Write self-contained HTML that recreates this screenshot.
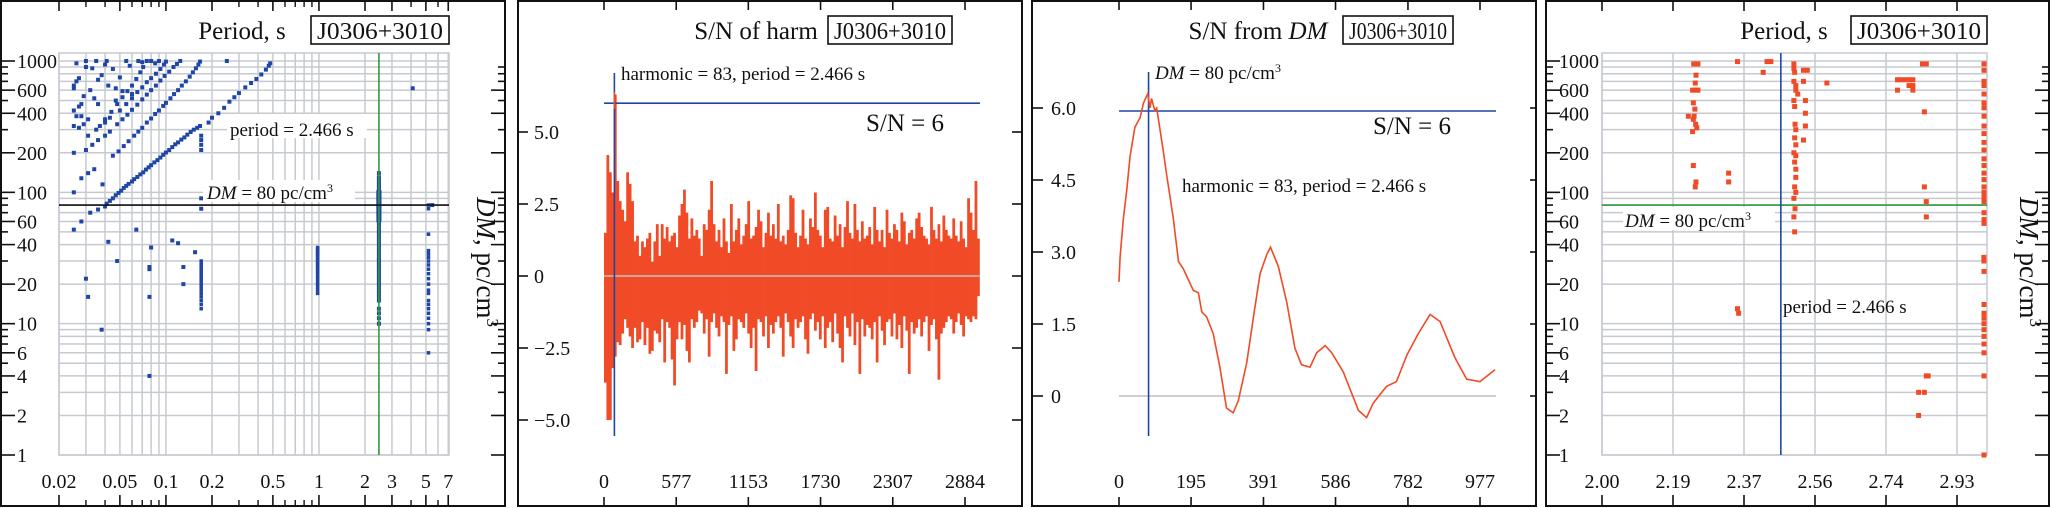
<!DOCTYPE html>
<html><head><meta charset="utf-8"><style>
html,body{margin:0;padding:0;background:#fff}
svg{display:block;font-family:"Liberation Serif",serif}
</style></head><body>
<svg id="fig" width="2051" height="508" viewBox="0 0 2051 508" xmlns="http://www.w3.org/2000/svg"></svg>
<script>
// ---------- DATA ----------
const p1XTicks = [0.02,0.05,0.1,0.2,0.5,1,2,3,5,7];
const p1XTickLabels = ["0.02","0.05","0.1","0.2","0.5","1","2","3","5","7"];
const logYTicks = [1,2,4,6,10,20,40,60,100,200,400,600,1000];
const logYTickLabels = ["1","2","4","6","10","20","40","60","100","200","400","600","1000"];
const p1MarkPeriod = 2.466;
const p1MarkDM = 80;
const p1StreakA = [[0.025,52],[0.028,60],[0.032,70],[0.036,74],[0.040,78],[0.041,82],[0.043,86],[0.045,90],[0.047,95],[0.049,99],[0.051,103],[0.053,108],[0.055,112],[0.057,116],[0.06,121],[0.062,126],[0.065,131],[0.068,137],[0.071,142],[0.074,149],[0.077,155],[0.08,161],[0.084,169],[0.088,176],[0.092,184],[0.096,193],[0.1,201],[0.105,210],[0.11,221],[0.115,232],[0.12,240],[0.126,252],[0.132,262],[0.138,275],[0.145,288],[0.152,300],[0.16,310],[0.167,320],[0.19,340],[0.2,370],[0.22,400],[0.24,440],[0.26,490],[0.28,530],[0.3,570],[0.33,630],[0.36,680],[0.39,730],[0.42,790],[0.45,860],[0.47,920],[0.48,960]];
const p1StreakB = [[0.028,128],[0.031,140],[0.034,150],[0.0385,115],[0.045,190],[0.049,205],[0.053,225],[0.057,245],[0.062,270],[0.066,290],[0.07,310],[0.075,340],[0.08,365],[0.085,395],[0.09,420],[0.096,455],[0.1,480],[0.107,520],[0.113,560],[0.12,600],[0.127,650],[0.135,700],[0.143,760],[0.15,820],[0.157,880],[0.163,940],[0.167,990],[0.25,1000]];
const p1StreakC = [[0.03,210],[0.033,230],[0.036,250],[0.04,270],[0.043,290],[0.048,330],[0.052,360],[0.056,390],[0.06,425],[0.065,465],[0.07,510],[0.075,555],[0.08,600],[0.086,650],[0.092,710],[0.098,770],[0.105,830],[0.112,900],[0.118,950],[0.124,1000]];
const p1StreakD = [[0.031,270],[0.035,300],[0.04,340],[0.043,370],[0.05,420],[0.055,470],[0.06,520],[0.065,580],[0.07,630],[0.075,690],[0.08,740],[0.086,800],[0.092,870],[0.097,940],[0.1,990]];
const p1StreakE = [[0.037,320],[0.04,360],[0.044,410],[0.048,470],[0.052,530],[0.056,590],[0.06,650],[0.064,730],[0.068,820],[0.071,900]];
const p1ScatterTop = [[0.025,620],[0.026,700],[0.025,650],[0.027,450],[0.025,420],[0.026,380],[0.025,320],[0.027,310],[0.025,200],[0.025,100],[0.028,470],[0.03,900],[0.032,600],[0.034,520],[0.036,470],[0.038,780],[0.041,1000],[0.045,870],[0.047,620],[0.05,750],[0.052,590],[0.055,1000],[0.058,920],[0.06,560],[0.066,1000],[0.07,980],[0.075,1000],[0.08,1000],[0.085,960],[0.09,1000],[0.029,330],[0.031,360],[0.028,380],[0.047,500],[0.026,960],[0.03,1000],[0.035,1000],[0.04,940],[0.033,880],[0.036,720],[0.042,650],[0.029,540],[0.027,740],[0.17,250],[0.17,230],[0.17,270],[0.17,210],[0.17,90],[0.17,75],[4.1,620]];
const p1ScatterLow = [[0.03,22],[0.031,16],[0.038,9],[0.042,42],[0.048,30],[0.064,52],[0.08,38],[0.078,27],[0.078,26],[0.078,16],[0.078,4],[0.11,43],[0.12,41],[0.13,27],[0.13,20],[0.155,35],[5.5,80]];
const p1Col017 = [13,14,15,16,17,18,19,20,21,22,23,24,25,26,27,28,29,30];
const p1Col1 = [17,18,19,20,21,22,23,24,25,26,27,28,29,30,31,32,33,34,35,36,37,38];
const p1Col2466 = [10,11,12,13,15,16,17,18,19,20,21,22,23,24,25,26,27,28,29,30,31,32,34,36,38,40,42,44,46,48,50,52,55,58,60,62,65,68,70,72,75,78,80,82,85,88,90,92,95,98,100,105,110,115,120,125,130,140];
const p1Col52 = [6,9,10,11,12,13,14,15,17,18,20,22,24,26,28,30,32,34,36,48,75,80];

const p2XTicks = [0,577,1153,1730,2307,2884];
const p2YTicks = [-5,-2.5,0,2.5,5];
const p2YTickLabels = ["\u22125.0","\u22122.5","0","2.5","5.0"];
const harmPos = [1.5,4.2,3.6,2.9,6.3,3.3,2.6,2.3,1.9,3.6,3.2,2.6,1.2,1.4,0.7,1.2,1.0,1.3,1.5,0.5,1.2,1.8,0.7,1.8,1.3,1.7,1.2,1.4,1.5,1.0,2.1,2.5,3.0,2.2,1.3,2.0,1.4,1.6,1.3,0.7,1.8,1.6,2.3,3.3,1.8,1.2,1.6,1.0,2.0,1.2,0.8,2.5,1.2,1.6,2.0,1.1,1.4,1.8,2.6,1.3,1.4,1.7,2.3,1.9,1.0,1.5,2.2,1.4,1.8,1.3,2.5,1.2,1.4,1.1,1.6,2.8,2.7,1.5,1.0,1.4,2.3,1.3,1.1,2.0,1.7,2.9,1.6,1.4,1.0,2.3,2.4,1.3,1.2,2.1,1.4,1.8,1.0,1.7,2.6,1.5,1.3,2.5,1.6,1.2,1.9,1.3,1.4,1.7,1.1,2.4,1.6,1.2,1.6,1.0,2.3,1.5,1.3,1.8,1.6,1.2,2.2,1.9,1.1,1.5,1.6,1.3,2.0,2.2,1.7,1.4,1.3,1.1,2.4,1.6,1.3,1.8,1.2,2.1,1.6,1.4,1.3,2.0,1.4,1.2,1.9,1.3,1.0,2.7,2.2,1.6,3.3,1.3];
const harmNeg = [-3.7,-5.0,-5.0,-3.2,-2.8,-2.3,-2.4,-2.0,-1.5,-1.8,-2.1,-2.5,-1.8,-2.3,-2.2,-1.6,-2.4,-1.8,-2.7,-2.6,-1.9,-2.0,-2.3,-1.5,-3.0,-1.6,-1.8,-2.9,-3.8,-2.2,-1.6,-2.2,-1.7,-2.6,-3.0,-1.5,-1.8,-1.6,-1.2,-1.3,-2.0,-1.5,-2.8,-1.6,-1.3,-1.8,-2.1,-1.4,-1.6,-3.4,-1.7,-1.4,-2.6,-2.2,-1.5,-1.6,-1.8,-1.3,-2.0,-2.5,-1.8,-3.3,-1.5,-1.6,-2.1,-1.4,-2.5,-1.7,-2.0,-1.6,-1.4,-1.8,-2.8,-1.3,-1.6,-2.1,-2.5,-1.5,-1.8,-1.6,-1.4,-2.2,-2.7,-1.5,-1.3,-1.9,-1.6,-2.2,-1.4,-2.5,-1.8,-1.6,-2.3,-1.3,-2.0,-2.5,-3.0,-1.4,-1.8,-2.1,-1.3,-2.4,-1.6,-3.4,-1.5,-2.1,-1.7,-1.8,-2.2,-1.6,-3.0,-1.4,-1.9,-2.4,-1.6,-1.5,-2.1,-1.3,-2.2,-1.7,-2.5,-1.4,-1.9,-3.4,-1.6,-2.0,-1.8,-1.5,-2.1,-1.6,-1.4,-2.6,-1.7,-1.5,-2.2,-3.6,-2.0,-1.8,-1.6,-1.4,-1.5,-2.0,-1.6,-1.3,-1.7,-2.1,-1.4,-1.5,-1.6,-1.4,-1.5,-0.7];
const p2Threshold = 6;
const p2Harmonic = 83;

const p3XTicks = [0,195,391,586,782,977];
const p3YTicks = [0,1.5,3,4.5,6];
const p3YTickLabels = ["0","1.5","3.0","4.5","6.0"];
const dmValues = [0,3,12,21,30,43,57,66,78,84,88,97,102,120,129,147,161,174,201,215,224,237,255,273,291,309,323,346,364,382,400,410,431,454,476,494,517,535,558,576,607,630,648,670,688,724,751,779,810,842,869,909,941,977,1018];
const snValues = [2.38,2.9,3.7,4.3,5.0,5.6,5.8,6.1,6.3,6.0,6.2,5.95,6.0,5.1,4.6,3.7,2.8,2.65,2.2,2.15,1.75,1.65,1.3,0.6,-0.25,-0.35,-0.1,0.7,1.65,2.55,2.95,3.1,2.7,1.95,1.0,0.65,0.6,0.9,1.05,0.9,0.5,0.05,-0.3,-0.45,-0.15,0.2,0.3,0.85,1.3,1.7,1.55,0.8,0.35,0.3,0.55];
const p3Threshold = 6;
const p3MarkDM = 80;

const p4XTicks = [2.0,2.185,2.37,2.555,2.74,2.925];
const p4XTickLabels = ["2.00","2.19","2.37","2.56","2.74","2.93"];
const p4MarkPeriod = 2.466;
const p4MarkDM = 80;
const p4Points = [[2.239,950],[2.245,950],[2.25,950],[2.245,780],[2.243,680],[2.236,600],[2.245,600],[2.25,600],[2.238,480],[2.242,430],[2.225,380],[2.24,380],[2.238,360],[2.244,330],[2.247,310],[2.236,290],[2.238,160],[2.245,120],[2.243,110],[2.33,140],[2.33,120],[2.353,990],[2.353,13],[2.356,12],[2.42,820],[2.43,990],[2.44,990],[2.5,950],[2.5,880],[2.502,820],[2.5,700],[2.505,650],[2.505,600],[2.51,560],[2.5,500],[2.502,450],[2.503,330],[2.505,300],[2.502,260],[2.505,230],[2.5,200],[2.505,190],[2.502,170],[2.505,150],[2.505,130],[2.502,110],[2.505,100],[2.5,90],[2.503,75],[2.5,65],[2.502,50],[2.525,850],[2.535,850],[2.525,700],[2.53,500],[2.53,400],[2.53,320],[2.525,250],[2.586,680],[2.77,720],[2.78,720],[2.79,720],[2.8,720],[2.81,720],[2.77,600],[2.8,650],[2.81,650],[2.81,600],[2.835,950],[2.845,950],[2.84,410],[2.84,110],[2.845,85],[2.845,65],[2.845,4],[2.85,4],[2.825,3],[2.84,3],[2.825,2],[3.0,950],[3.0,850],[3.0,700],[3.0,650],[3.0,560],[3.0,480],[3.005,440],[3.0,380],[3.0,320],[3.005,280],[3.005,240],[3.005,210],[3.0,180],[3.0,160],[3.005,140],[3.0,125],[3.0,110],[3.0,100],[3.005,92],[3.005,85],[3.0,70],[3.0,62],[3.0,58],[2.995,32],[3.005,30],[3.005,25],[3.0,14],[3.0,12],[3.0,11],[3.0,10],[3.0,9],[3.0,8],[3.0,7],[3.0,6],[3.0,4],[3.0,1]];

// ---------- HELPERS ----------
const NS = "http://www.w3.org/2000/svg";
const svg = document.getElementById("fig");
function mk(tag, attrs, parent, text){
  const e = document.createElementNS(NS, tag);
  for (const k in attrs) e.setAttribute(k, attrs[k]);
  if (text !== undefined) e.textContent = text;
  (parent || svg).appendChild(e);
  return e;
}
function grp(name){
  const g = document.createElementNS(NS, "g");
  
  
  svg.appendChild(g);
  return g;
}
const GRID = "#c6cad0", RED = "#f04a26", BLUE = "#1f46a6", GREEN = "#2f9a3e";
const L10 = Math.log10;
const TICKFS = 20, ANNFS = 19;

const yTop = 53, yBot = 455, decade = 131.33;
function yLog(v){ return yBot - L10(v) * decade; }

function frame(name, x1, x2){
  const g = grp(name);
  mk("rect", {x:x1, y:1, width:x2-x1, height:505, fill:"none", stroke:"#111", "stroke-width":2}, g);
  return g;
}
function titleBlock(name, titleHtmlParts, titleX, boxX1, boxX2){
  const g = grp(name);
  const t = mk("text", {x:titleX, y:39, "font-size":25, fill:"#111", "text-anchor":"middle"}, g);
  
  
  titleHtmlParts.forEach(p=>{ mk("tspan", p[1]?{"font-style":"italic"}:{}, t, p[0]); });
  mk("rect", {x:boxX1, y:16, width:boxX2-boxX1, height:28, fill:"#fff", stroke:"#111", "stroke-width":1.6}, g);
  const b = mk("text", {x:(boxX1+boxX2)/2, y:39, "font-size":24, fill:"#111", "text-anchor":"middle", textLength:(boxX2-boxX1-12), lengthAdjust:"spacingAndGlyphs"}, g, "J0306+3010");
  
  
}
function yTitle(name, x){
  const g = grp(name);
  const t = mk("text", {x:0, y:0, "font-size":27, fill:"#111", "text-anchor":"middle", transform:`translate(${x},262) rotate(90)`}, g);
  mk("tspan", {"font-style":"italic"}, t, "DM");
  mk("tspan", {}, t, ", pc/cm");
  mk("tspan", {"font-size":17, dy:-10}, t, "3");
}
function logLeftTicks(g, xFrame, xLabel, xRightFrame){
  for (let d=0; d<3; d++) for (let m=1; m<10; m++){
    const v = m*Math.pow(10,d); if (v>1000) continue;
    const major = logYTicks.indexOf(v) >= 0;
    const len = major ? 14 : 7, y = yLog(v);
    mk("line", {x1:xFrame, y1:y, x2:xFrame+len, y2:y, stroke:"#111", "stroke-width":1.6}, g);
    mk("line", {x1:xRightFrame, y1:y, x2:xRightFrame-len, y2:y, stroke:"#111", "stroke-width":1.6}, g);
  }
  mk("line", {x1:xFrame, y1:yLog(1000), x2:xFrame+14, y2:yLog(1000), stroke:"#111", "stroke-width":1.6}, g);
  logYTicks.forEach((v,i)=>{
    const t = mk("text", {x:xLabel, y:yLog(v)+7, "font-size":TICKFS, fill:"#111"}, g, logYTickLabels[i]);
    
    
  });
}
function logHGrid(g, x1, x2){
  for (let d=0; d<4; d++) for (let m=1; m<10; m++){
    const v = m*Math.pow(10,d); if (v>1100) continue;
    const y = yLog(v);
    mk("line", {x1:x1, y1:y, x2:x2, y2:y, stroke:GRID, "stroke-width":1.5}, g);
  }
}
function dot(g, x, y, s, color){
  const r = mk("rect", {x:x-s/2, y:y-s/2, width:s, height:s, fill:color}, g);
  
  
}

// ---------- PANEL 1 ----------
(function(){
  const x0 = 59, x1 = 449;
  const xP = p => x0 + L10(p/0.02) * 153;
  frame("panel-1-frame", 1, 505);
  const grid = grp("panel-1-grid");
  [0.02,0.03,0.04,0.05,0.06,0.07,0.08,0.09,0.1,0.2,0.3,0.4,0.5,0.6,0.7,0.8,0.9,1,2,3,4,5,6,7].forEach(v=>{
    const x = xP(v); mk("line",{x1:x,y1:yTop,x2:x,y2:yBot,stroke:GRID,"stroke-width":1.5},grid);
  });
  logHGrid(grid, x0, x1);
  mk("rect",{x:x0,y:yTop,width:x1-x0,height:yBot-yTop,fill:"none",stroke:GRID,"stroke-width":1.5},grid);
  const ax = grp("panel-1-axes");
  logLeftTicks(ax, 1, 17, 505);
  p1XTicks.forEach((v,i)=>{
    const x = xP(v);
    mk("line",{x1:x,y1:1,x2:x,y2:11,stroke:"#111","stroke-width":1.6},ax);
    mk("line",{x1:x,y1:506,x2:x,y2:495,stroke:"#111","stroke-width":1.6},ax);
    const t = mk("text",{x:x,y:488,"font-size":TICKFS,fill:"#111","text-anchor":"middle"},ax,p1XTickLabels[i]);
    
    
  });
  [0.03,0.04,0.06,0.07,0.08,0.09,0.3,0.4,0.6,0.7,0.8,0.9,4,6].forEach(v=>{
    const x = xP(v);
    mk("line",{x1:x,y1:1,x2:x,y2:7,stroke:"#111","stroke-width":1.4},ax);
    mk("line",{x1:x,y1:506,x2:x,y2:500,stroke:"#111","stroke-width":1.4},ax);
  });
  const pts = grp("panel-1-points");
  [p1StreakA,p1StreakB,p1StreakC,p1StreakD,p1StreakE,p1ScatterTop,p1ScatterLow].forEach(arr=>{
    arr.forEach(([p,d])=>dot(pts, xP(p), yLog(d), 4, BLUE));
  });
  p1Col017.forEach(d=>dot(pts, xP(0.17), yLog(d), 3.5, BLUE));
  p1Col1.forEach(d=>dot(pts, xP(0.98), yLog(d), 3.5, BLUE));
  p1Col2466.forEach(d=>dot(pts, xP(2.466), yLog(d), d>60&&d<105?5:4, BLUE));
  p1Col52.forEach(d=>dot(pts, xP(5.2), yLog(d), 3.5, BLUE));
  const mkg = grp("panel-1-markers");
  const vx = xP(p1MarkPeriod);
  const vl = mk("line",{x1:vx,y1:yTop,x2:vx,y2:yBot,stroke:GREEN,"stroke-width":1.6},mkg);
  
  
  const hy = yLog(p1MarkDM);
  const hl = mk("line",{x1:x0,y1:hy,x2:x1,y2:hy,stroke:"#111","stroke-width":1.6},mkg);
  
  
  mk("rect",{x:227,y:114,width:140,height:24,fill:"#fff"},mkg);
  mk("text",{x:230,y:136,"font-size":ANNFS,fill:"#111"},mkg,"period = 2.466 s");
  mk("rect",{x:203,y:180,width:152,height:22,fill:"#fff"},mkg);
  const a = mk("text",{x:207,y:199,"font-size":ANNFS,fill:"#111"},mkg);
  mk("tspan",{"font-style":"italic"},a,"DM");
  mk("tspan",{},a," = 80 pc/cm");
  mk("tspan",{"font-size":12,dy:-7},a,"3");
  titleBlock("panel-1-title", [["Period, s",false]], 242, 311, 449);
  yTitle("panel-1-y-title", 477);
})();

// ---------- PANEL 2 ----------
(function(){
  const x0 = 604, xr = 980;
  const xH = h => x0 + h * (361/2884);
  const yS = v => 276 - v * 28.8;
  frame("panel-2-frame", 518, 1022);
  const ax = grp("panel-2-axes");
  p2XTicks.forEach(v=>{
    const x = xH(v);
    mk("line",{x1:x,y1:1,x2:x,y2:10,stroke:"#111","stroke-width":1.6},ax);
    mk("line",{x1:x,y1:506,x2:x,y2:497,stroke:"#111","stroke-width":1.6},ax);
    const t = mk("text",{x:x,y:488,"font-size":TICKFS,fill:"#111","text-anchor":"middle"},ax,String(v));
    
    
  });
  p2YTicks.forEach((v,i)=>{
    const y = yS(v);
    mk("line",{x1:518,y1:y,x2:528,y2:y,stroke:"#111","stroke-width":1.6},ax);
    mk("line",{x1:1022,y1:y,x2:1012,y2:y,stroke:"#111","stroke-width":1.6},ax);
    const t = mk("text",{x:534,y:y+7,"font-size":TICKFS,fill:"#111"},ax,p2YTickLabels[i]);
    
    
  });
  const bars = grp("panel-2-bars");
  const n = harmPos.length, bw = 3000/n;
  for (let i=0;i<n;i++){
    const xa = xH(i*bw), xb = xH((i+1)*bw);
    const r1 = mk("rect",{x:xa,y:yS(harmPos[i]),width:xb-xa+0.3,height:yS(0)-yS(harmPos[i]),fill:RED},bars);
    
    
    const nv = harmNeg[i] !== undefined ? harmNeg[i] : -1.5;
    const r2 = mk("rect",{x:xa,y:yS(0),width:xb-xa+0.3,height:yS(nv)-yS(0),fill:RED},bars);
    
    
  }
  const mkg = grp("panel-2-markers");
  mk("line",{x1:x0,y1:yS(0),x2:xr,y2:yS(0),stroke:"#bfbfbf","stroke-width":1.6},mkg);
  const th = mk("line",{x1:x0,y1:yS(p2Threshold),x2:xr,y2:yS(p2Threshold),stroke:BLUE,"stroke-width":1.6},mkg);
  
  
  const hx = xH(p2Harmonic);
  const vl = mk("line",{x1:hx,y1:73,x2:hx,y2:436,stroke:BLUE,"stroke-width":1.6},mkg);
  
  
  mk("line",{x1:hx,y1:yS(6.4),x2:hx,y2:yS(5.8),stroke:RED,"stroke-width":1.6},mkg);
  mk("text",{x:621,y:80,"font-size":ANNFS,fill:"#111"},mkg,"harmonic = 83, period = 2.466 s");
  mk("text",{x:866,y:131,"font-size":25,fill:"#111"},mkg,"S/N = 6");
  titleBlock("panel-2-title", [["S/N of harm",false]], 756, 828, 952);
})();

// ---------- PANEL 3 ----------
(function(){
  const x0 = 1119, xr = 1496;
  const xD = d => x0 + d * (361/977);
  const yS = v => 396 - v * 48;
  frame("panel-3-frame", 1032, 1536);
  const ax = grp("panel-3-axes");
  p3XTicks.forEach(v=>{
    const x = xD(v);
    mk("line",{x1:x,y1:1,x2:x,y2:10,stroke:"#111","stroke-width":1.6},ax);
    mk("line",{x1:x,y1:506,x2:x,y2:497,stroke:"#111","stroke-width":1.6},ax);
    const t = mk("text",{x:x,y:488,"font-size":TICKFS,fill:"#111","text-anchor":"middle"},ax,String(v));
    
    
  });
  p3YTicks.forEach((v,i)=>{
    const y = yS(v);
    mk("line",{x1:1032,y1:y,x2:1043,y2:y,stroke:"#111","stroke-width":1.6},ax);
    mk("line",{x1:1536,y1:y,x2:1530,y2:y,stroke:"#111","stroke-width":1.6},ax);
    const t = mk("text",{x:1051,y:y+7,"font-size":TICKFS,fill:"#111"},ax,p3YTickLabels[i]);
    
    
  });
  const mkg = grp("panel-3-markers");
  mk("line",{x1:x0,y1:yS(0),x2:xr,y2:yS(0),stroke:"#bfbfbf","stroke-width":1.6},mkg);
  const th = mk("line",{x1:x0,y1:yS(p3Threshold)+3,x2:xr,y2:yS(p3Threshold)+3,stroke:BLUE,"stroke-width":1.6},mkg);
  
  
  const line = grp("panel-3-series");
  const pts = dmValues.map((d,i)=>xD(d).toFixed(1)+","+yS(snValues[i]).toFixed(1)).join(" ");
  const pl = mk("polyline",{points:pts,fill:"none",stroke:RED,"stroke-width":1.6},line);
  
  
  const vx = xD(p3MarkDM);
  const vl = mk("line",{x1:vx,y1:72,x2:vx,y2:436,stroke:BLUE,"stroke-width":1.6},mkg);
  
  
  const a = mk("text",{x:1155,y:79,"font-size":ANNFS,fill:"#111"},mkg);
  mk("tspan",{"font-style":"italic"},a,"DM");
  mk("tspan",{},a," = 80 pc/cm");
  mk("tspan",{"font-size":12,dy:-7},a,"3");
  mk("text",{x:1373,y:134,"font-size":25,fill:"#111"},mkg,"S/N = 6");
  mk("text",{x:1182,y:192,"font-size":ANNFS,fill:"#111"},mkg,"harmonic = 83, period = 2.466 s");
  titleBlock("panel-3-title", [["S/N from ",false],["DM",true]], 1258, 1343, 1453);
})();

// ---------- PANEL 4 ----------
(function(){
  const x0 = 1602, x1 = 1987;
  const xP = p => x0 + (p-2.0) * (355/0.925);
  frame("panel-4-frame", 1546, 2049);
  const grid = grp("panel-4-grid");
  p4XTicks.forEach(v=>{ const x=xP(v); mk("line",{x1:x,y1:yTop,x2:x,y2:yBot,stroke:GRID,"stroke-width":1.5},grid); });
  logHGrid(grid, x0, x1);
  mk("rect",{x:x0,y:yTop,width:x1-x0,height:yBot-yTop,fill:"none",stroke:GRID,"stroke-width":1.5},grid);
  const ax = grp("panel-4-axes");
  logLeftTicks(ax, 1546, 1559, 2049);
  p4XTicks.forEach((v,i)=>{
    const x = xP(v);
    mk("line",{x1:x,y1:1,x2:x,y2:11,stroke:"#111","stroke-width":1.6},ax);
    mk("line",{x1:x,y1:506,x2:x,y2:495,stroke:"#111","stroke-width":1.6},ax);
    const t = mk("text",{x:x,y:488,"font-size":TICKFS,fill:"#111","text-anchor":"middle"},ax,p4XTickLabels[i]);
    
    
  });
  const pts = grp("panel-4-points");
  p4Points.forEach(([p,d])=>dot(pts, Math.min(xP(p), x1-3), yLog(d), 5, RED));
  const mkg = grp("panel-4-markers");
  const hy = yLog(p4MarkDM);
  const hl = mk("line",{x1:x0,y1:hy,x2:x1,y2:hy,stroke:GREEN,"stroke-width":1.6},mkg);
  
  
  const vx = xP(p4MarkPeriod);
  const vl = mk("line",{x1:vx,y1:yTop,x2:vx,y2:yBot,stroke:BLUE,"stroke-width":1.6},mkg);
  
  
  mk("rect",{x:1623,y:207,width:152,height:23,fill:"#fff"},mkg);
  const a = mk("text",{x:1625,y:227,"font-size":ANNFS,fill:"#111"},mkg);
  mk("tspan",{"font-style":"italic"},a,"DM");
  mk("tspan",{},a," = 80 pc/cm");
  mk("tspan",{"font-size":12,dy:-7},a,"3");
  mk("text",{x:1783,y:313,"font-size":ANNFS,fill:"#111"},mkg,"period = 2.466 s");
  titleBlock("panel-4-title", [["Period, s",false]], 1784, 1851, 1987);
  yTitle("panel-4-y-title", 2020);
})();
</script>
</body></html>
